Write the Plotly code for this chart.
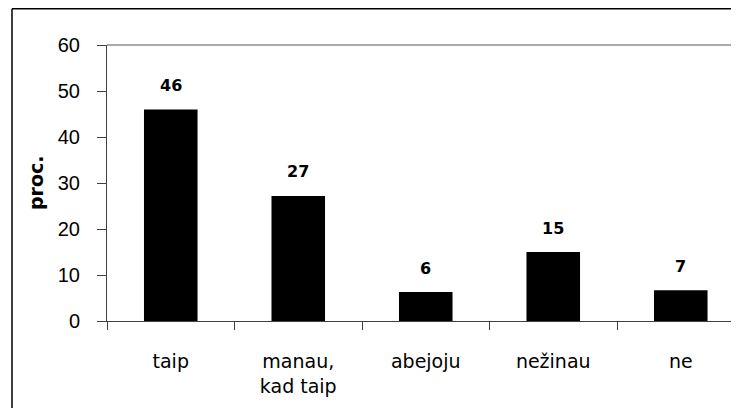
import plotly.graph_objects as go

categories = ["taip", "manau,<br>kad taip", "abejoju", "nežinau", "ne"]
values = [46, 27.2, 6.3, 15, 6.7]
value_labels = ["46", "27", "6", "15", "7"]
y_ticks = [0, 10, 20, 30, 40, 50, 60]
y_title = "proc."

# page has an 8px body margin; the figure is sized so it fits the 739x408 window
OFF = 8
W, H = 739 - OFF, 408 - OFF
L, T = 107 - OFF, 45 - OFF
B = H - (321 - OFF)
pw = W - L
ph = H - T - B

fig = go.Figure()
fig.add_trace(go.Bar(
    x=categories, y=values, width=0.42,
    marker=dict(color="black", line=dict(width=0)),
    hoverinfo="skip",
))

for c, v, t in zip(categories, values, value_labels):
    fig.add_annotation(x=c, y=v, text=t, showarrow=False, yanchor="middle",
                       yshift=24, font=dict(family="DejaVu Sans", size=16,
                                            color="black", weight="bold"))

fig.add_annotation(xref="paper", yref="paper", x=(36 - OFF - L) / pw, y=0.5,
                   text=y_title, textangle=-90, showarrow=False,
                   xanchor="center", yanchor="middle",
                   font=dict(family="DejaVu Sans", size=19,
                             color="black", weight="bold"))

# outer frame (left and top edges)
fx = (12 - OFF - L) / pw
fy = (H - B - 0.75) / ph
fig.add_shape(type="line", xref="paper", yref="paper", x0=fx, x1=fx,
              y0=-B / ph - 0.05, y1=fy, line=dict(color="black", width=1.5))
fig.add_shape(type="line", xref="paper", yref="paper", x0=fx, x1=1.05,
              y0=fy, y1=fy, line=dict(color="black", width=1.5))
# plot area top edge
fig.add_shape(type="line", xref="paper", yref="paper", x0=0, x1=1.05,
              y0=1, y1=1, line=dict(color="#8c8c8c", width=1.5))

fig.update_layout(
    width=W, height=H,
    margin=dict(l=L, r=0, t=T, b=B, pad=0),
    paper_bgcolor="white", plot_bgcolor="white",
    showlegend=False,
    font=dict(family="Liberation Sans, Arial", size=20, color="black"),
    xaxis=dict(
        range=[-0.5, -0.5 + pw / 127.5],
        showgrid=False, zeroline=False,
        showline=True, linecolor="#404040", linewidth=1,
        ticks="outside", ticklen=8, tickcolor="#404040", tickwidth=1,
        tickson="boundaries",
        tickfont=dict(family="DejaVu Sans", size=19, color="black"),
        ticklabelstandoff=23,
    ),
    yaxis=dict(
        range=[0, 60], tickvals=y_ticks,
        showgrid=False, zeroline=False,
        showline=True, linecolor="#404040", linewidth=1,
        ticks="outside", ticklen=9, tickcolor="#404040", tickwidth=1,
        tickfont=dict(family="Liberation Sans, Arial", size=20, color="black"),
        ticklabelstandoff=13,
    ),
)

fig.write_html("out.html")
